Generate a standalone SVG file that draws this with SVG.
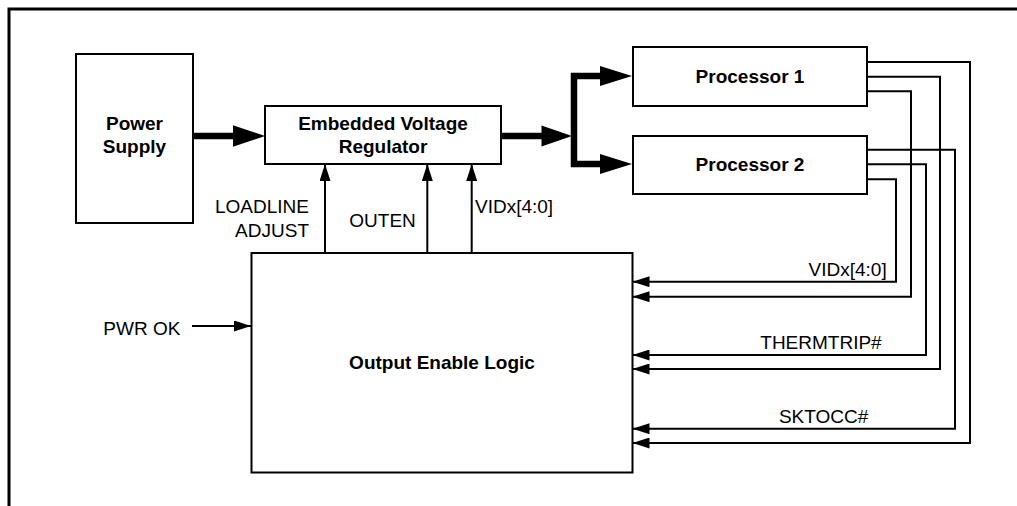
<svg xmlns="http://www.w3.org/2000/svg" width="1017" height="506" viewBox="0 0 1017 506">
<style>
.box{fill:#fff;stroke:#000;stroke-width:2}
.b{font-family:"Liberation Sans",Arial,sans-serif;font-weight:bold;font-size:19px;fill:#000;text-anchor:middle}
.t{font-family:"Liberation Sans",Arial,sans-serif;font-size:19px;fill:#000}
.w{fill:none;stroke:#000;stroke-width:2}
.thick{fill:none;stroke:#000;stroke-width:6.5}
</style>
<defs>
<marker id="ah" markerUnits="userSpaceOnUse" markerWidth="18" markerHeight="11" refX="17" refY="5.5" orient="auto" viewBox="0 0 18 11">
<path d="M0,0 L17,5.5 L0,11 z" fill="#000"/>
</marker>
</defs>
<path d="M9 506 V9 H1017" fill="none" stroke="#000" stroke-width="3"/>
<g id="power-supply">
<rect class="box" x="76" y="54" width="117" height="169"/>
<text class="b" x="134.5" y="130">Power</text>
<text class="b" x="134.5" y="152.5">Supply</text>
</g>
<g id="evr">
<rect class="box" x="265" y="106" width="236" height="58"/>
<text class="b" x="383" y="130">Embedded Voltage</text>
<text class="b" x="383" y="153.3">Regulator</text>
</g>
<g id="processor1">
<rect class="box" x="633" y="47" width="234" height="59"/>
<text class="b" x="750" y="83.3">Processor 1</text>
</g>
<g id="processor2">
<rect class="box" x="633" y="136" width="234" height="58"/>
<text class="b" x="750" y="171">Processor 2</text>
</g>
<g id="output-enable-logic">
<rect class="box" x="251.5" y="253" width="381" height="219.5"/>
<text class="b" x="442" y="369">Output Enable Logic</text>
</g>
<g id="connectors">
<line class="thick" x1="193" y1="136" x2="234" y2="136"/>
<polygon points="233,125.3 265,136 233,146.7" fill="#000"/>
<line class="thick" x1="501" y1="136" x2="543" y2="136"/>
<polygon points="541.5,125.5 572,136 541.5,146.5" fill="#000"/>
<path class="thick" d="M601 76 H574 V164 H601" stroke-linejoin="miter"/>
<polygon points="600,66 632,76 600,86" fill="#000"/>
<polygon points="600,154 632,164 600,174" fill="#000"/>
<line class="w" x1="325" y1="253" x2="325" y2="164" marker-end="url(#ah)"/>
<line class="w" x1="427.3" y1="253" x2="427.3" y2="164" marker-end="url(#ah)"/>
<line class="w" x1="471.7" y1="253" x2="471.7" y2="164" marker-end="url(#ah)"/>
<line class="w" x1="192" y1="326" x2="251" y2="326" marker-end="url(#ah)"/>
<polyline class="w" points="867,62 970,62 970,443 632.5,443" marker-end="url(#ah)"/>
<polyline class="w" points="867,76.7 940,76.7 940,369 632.5,369" marker-end="url(#ah)"/>
<polyline class="w" points="867,91.3 911,91.3 911,296.7 632.5,296.7" marker-end="url(#ah)"/>
<polyline class="w" points="867,149.7 955,149.7 955,428.7 632.5,428.7" marker-end="url(#ah)"/>
<polyline class="w" points="867,164.3 926,164.3 926,355 632.5,355" marker-end="url(#ah)"/>
<polyline class="w" points="867,179.3 896,179.3 896,281.7 632.5,281.7" marker-end="url(#ah)"/>
</g>
<g id="labels">
<text class="t" x="309" y="213.3" text-anchor="end">LOADLINE</text>
<text class="t" x="309" y="236.7" text-anchor="end">ADJUST</text>
<text class="t" x="349.3" y="226.7">OUTEN</text>
<text class="t" x="475" y="213.3">VIDx[4:0]</text>
<text class="t" x="103.3" y="335">PWR OK</text>
<text class="t" x="886.7" y="276" text-anchor="end">VIDx[4:0]</text>
<text class="t" x="881.7" y="349.3" text-anchor="end">THERMTRIP#</text>
<text class="t" x="868.3" y="422.7" text-anchor="end">SKTOCC#</text>
</g>
</svg>
